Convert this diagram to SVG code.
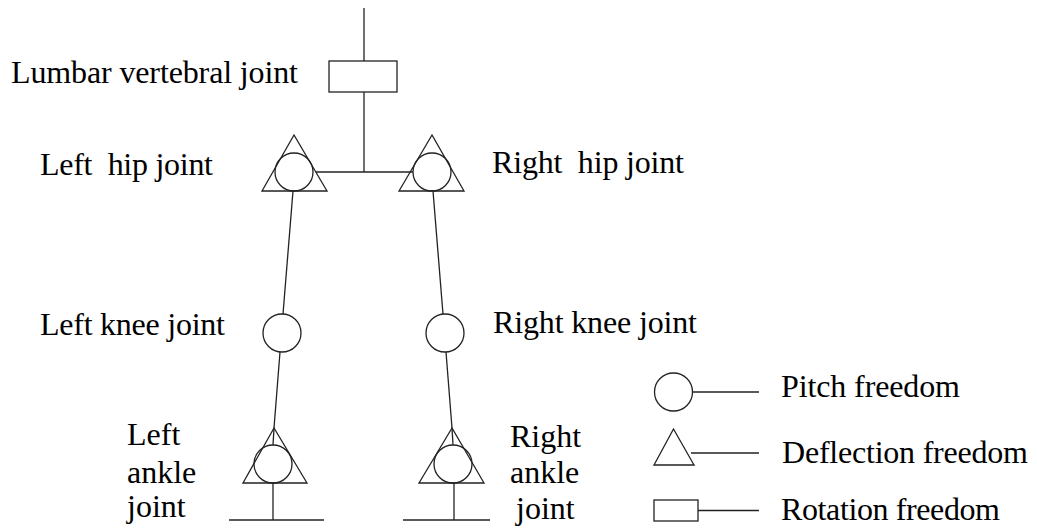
<svg xmlns="http://www.w3.org/2000/svg" width="1037" height="530" viewBox="0 0 1037 530">
<style>
.s{fill:none;stroke:#222;stroke-width:1.3}
.t{font-family:"Liberation Serif","Times New Roman",serif;font-size:32px;fill:#000;white-space:pre}
</style>
<rect width="1037" height="530" fill="#fff"/>
<g id="connectors" class="s">
<line x1="364" y1="8" x2="364" y2="61"/>
<line x1="364" y1="92" x2="364" y2="172"/>
<line x1="316" y1="172" x2="413" y2="172"/>
<line x1="293" y1="191" x2="283" y2="314"/>
<line x1="280" y1="352" x2="274" y2="428"/>
<line x1="274" y1="428" x2="273" y2="445"/>
<line x1="433" y1="191" x2="443" y2="314"/>
<line x1="446" y1="352" x2="452" y2="428"/>
<line x1="452" y1="428" x2="453" y2="445"/>
<line x1="273" y1="483" x2="273" y2="520"/>
<line x1="229" y1="520" x2="324" y2="520"/>
<line x1="454" y1="483" x2="454" y2="520"/>
<line x1="403" y1="520" x2="490" y2="520"/>
</g>
<g id="lumbar">
<rect class="s" x="329" y="61" width="68" height="31"/>
<text class="t" x="11" y="83" textLength="287" lengthAdjust="spacing">Lumbar vertebral joint</text>
</g>
<g id="left-hip">
<polygon class="s" points="294,135 262,191 327,191"/>
<circle class="s" cx="294" cy="172" r="19"/>
<text class="t" x="40" y="175" textLength="173" lengthAdjust="spacing">Left  hip joint</text>
</g>
<g id="right-hip">
<polygon class="s" points="432,135 399,191 464,191"/>
<circle class="s" cx="432" cy="172" r="19"/>
<text class="t" x="492" y="173" textLength="192" lengthAdjust="spacing">Right  hip joint</text>
</g>
<g id="left-knee">
<circle class="s" cx="282" cy="333" r="19"/>
<text class="t" x="40" y="335" textLength="185" lengthAdjust="spacing">Left knee joint</text>
</g>
<g id="right-knee">
<circle class="s" cx="445" cy="333" r="19"/>
<text class="t" x="493" y="333" textLength="204" lengthAdjust="spacing">Right knee joint</text>
</g>
<g id="left-ankle">
<polygon class="s" points="274,428 243,483 307,483"/>
<circle class="s" cx="273" cy="464" r="19"/>
<text class="t" x="127" y="445">Left</text>
<text class="t" x="127" y="483">ankle</text>
<text class="t" x="127" y="517">joint</text>
</g>
<g id="right-ankle">
<polygon class="s" points="452,428 419,483 484,483"/>
<circle class="s" cx="453" cy="464" r="19"/>
<text class="t" x="510" y="447">Right</text>
<text class="t" x="510" y="483">ankle</text>
<text class="t" x="516" y="519">joint</text>
</g>
<g id="legend">
<circle class="s" cx="673.5" cy="392" r="19"/>
<line class="s" x1="692.5" y1="392" x2="759" y2="392"/>
<text class="t" x="781" y="397" textLength="179" lengthAdjust="spacing">Pitch freedom</text>
<polygon class="s" points="673.5,429 654,465 694,465"/>
<line class="s" x1="691" y1="453" x2="759" y2="453"/>
<text class="t" x="782" y="463" textLength="246" lengthAdjust="spacing">Deflection freedom</text>
<rect class="s" x="654" y="500" width="44" height="21"/>
<line class="s" x1="698" y1="510.5" x2="759" y2="510.5"/>
<text class="t" x="781" y="520" textLength="219" lengthAdjust="spacing">Rotation freedom</text>
</g>
</svg>
